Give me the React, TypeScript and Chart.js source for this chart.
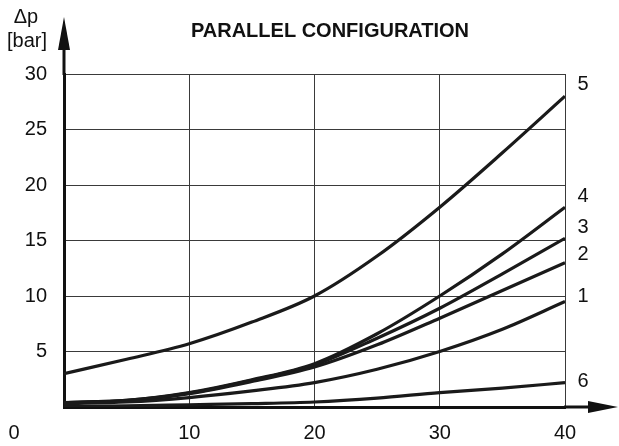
import React, { useEffect, useRef } from "react";
import { Chart, registerables } from "chart.js";

Chart.register(...registerables);

// Flow (x) sample positions
const flowValues = [0, 5, 10, 15, 20, 25, 30, 35, 40];

// Δp curves (bar)
const curve1 = [0.3, 0.45, 0.85, 1.45, 2.2, 3.4, 5.0, 7.0, 9.5];
const curve2 = [0.4, 0.55, 1.2, 2.3, 3.6, 5.6, 8.0, 10.5, 13.0];
const curve3 = [0.4, 0.6, 1.25, 2.4, 3.8, 6.2, 8.9, 12.0, 15.2];
const curve4 = [0.4, 0.6, 1.3, 2.45, 3.9, 6.6, 10.0, 13.8, 18.0];
const curve5 = [3.0, 4.3, 5.7, 7.65, 10.0, 13.6, 18.0, 22.9, 28.0];
const curve6 = [0.05, 0.1, 0.2, 0.3, 0.45, 0.8, 1.3, 1.7, 2.2];

const curveNames = ["1", "2", "3", "4", "5", "6"];
const curveSeries = [curve1, curve2, curve3, curve4, curve5, curve6];
// value (bar) at which each curve's number label is centred, right of the plot
const curveLabelValues = [10.0, 13.7, 16.2, 19.0, 29.1, 2.3];

const xTicks = [0, 10, 20, 30, 40];
const yTicks = [0, 5, 10, 15, 20, 25, 30];

const titleText = "PARALLEL CONFIGURATION";
const yUnitTop = "\u0394p";
const yUnitBottom = "[bar]";
const originLabel = "0";

const FONT = "'Liberation Sans', Arial, sans-serif";

const decorPlugin = {
  id: "decor",
  afterDraw(chart: any) {
    const ctx = chart.ctx as CanvasRenderingContext2D;
    const xs = chart.scales.x;
    const ys = chart.scales.y;
    const left = xs.getPixelForValue(0);
    const right = xs.getPixelForValue(40);
    const top = ys.getPixelForValue(30);
    const bottom = ys.getPixelForValue(0);
    ctx.save();
    ctx.fillStyle = "#111";
    ctx.strokeStyle = "#111";
    ctx.lineWidth = 3;
    // y-axis arrow
    ctx.beginPath();
    ctx.moveTo(left, top + 1);
    ctx.lineTo(left, top - 26);
    ctx.stroke();
    ctx.beginPath();
    ctx.moveTo(left - 6, top - 24);
    ctx.lineTo(left + 6, top - 24);
    ctx.lineTo(left, top - 57);
    ctx.closePath();
    ctx.fill();
    // x-axis arrow
    ctx.beginPath();
    ctx.moveTo(right - 1, bottom);
    ctx.lineTo(right + 26, bottom);
    ctx.stroke();
    ctx.beginPath();
    ctx.moveTo(right + 23, bottom - 6);
    ctx.lineTo(right + 23, bottom + 6);
    ctx.lineTo(right + 53, bottom);
    ctx.closePath();
    ctx.fill();

    // title
    ctx.font = `bold 20px ${FONT}`;
    ctx.textAlign = "center";
    ctx.textBaseline = "middle";
    ctx.fillText(titleText, 330, 31);

    // unit label
    ctx.font = `20px ${FONT}`;
    ctx.textAlign = "center";
    ctx.textBaseline = "alphabetic";
    ctx.fillText(yUnitTop, 26, 23);
    ctx.fillText(yUnitBottom, 27, 47);

    // origin label
    ctx.textBaseline = "middle";
    ctx.fillText(originLabel, left - 50, 433);

    // curve numbers
    ctx.textAlign = "center";
    curveNames.forEach((n, i) => {
      ctx.fillText(n, right + 18, ys.getPixelForValue(curveLabelValues[i]));
    });
    ctx.restore();
  },
};

export default function App() {
  const ref = useRef<HTMLCanvasElement | null>(null);
  useEffect(() => {
    document.body.style.margin = "0";
    const canvas = ref.current!;
    const datasets = curveSeries.map((s, i) => ({
      label: curveNames[i],
      data: s.map((v, j) => ({ x: flowValues[j], y: v })),
      borderColor: "#1a1a1a",
      borderWidth: 3.2,
      pointRadius: 0,
      fill: false,
      tension: 0.4,
      cubicInterpolationMode: "monotone" as const,
    }));
    const chart = new Chart(canvas, {
      type: "line",
      data: { datasets },
      options: {
        responsive: false,
        animation: false,
        events: [],
        layout: { padding: { left: 0, top: 74, right: 54, bottom: 0 } },
        plugins: { legend: { display: false }, tooltip: { enabled: false }, title: { display: false } },
        scales: {
          x: {
            type: "linear",
            min: 0,
            max: 40,
            afterBuildTicks: (s: any) => {
              s.ticks = xTicks.map((v) => ({ value: v }));
            },
            afterFit: (s: any) => {
              s.height = 39;
            },
            ticks: {
              callback: (v: any) => (v === 0 ? "" : String(v)),
              color: "#111",
              font: { family: FONT, size: 20 },
              padding: 14,
              maxRotation: 0,
              autoSkip: false,
            },
            grid: { color: "#3a3a3a", lineWidth: 1, drawTicks: false },
            border: { display: true, color: "#111", width: 3 },
          },
          y: {
            type: "linear",
            min: 0,
            max: 30,
            afterBuildTicks: (s: any) => {
              s.ticks = yTicks.map((v) => ({ value: v }));
            },
            afterFit: (s: any) => {
              s.width = 64;
            },
            ticks: {
              callback: (v: any) => (v === 0 ? "" : String(v)),
              color: "#111",
              font: { family: FONT, size: 20 },
              padding: 17,
              autoSkip: false,
            },
            grid: { color: "#3a3a3a", lineWidth: 1, drawTicks: false },
            border: { display: true, color: "#111", width: 3 },
          },
        },
      },
      plugins: [decorPlugin],
    });
    return () => chart.destroy();
  }, []);
  return <canvas ref={ref} width={619} height={446} style={{ display: "block" }} />;
}
